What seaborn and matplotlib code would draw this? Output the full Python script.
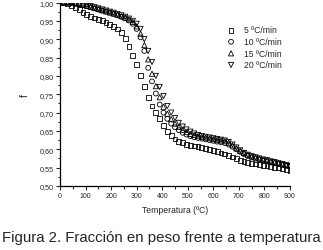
import numpy as np
import pandas as pd
import matplotlib
matplotlib.use("Agg")
import matplotlib.pyplot as plt
import seaborn as sns
from matplotlib.ticker import MultipleLocator, FuncFormatter

temperature = [15, 30, 45, 60, 75, 90, 105, 120, 135, 150, 165, 180, 195, 210, 225,
               240, 255, 270, 285, 300, 315, 330, 345, 360, 375, 390, 405, 420, 435, 450,
               465, 480, 495, 510, 525, 540, 555, 570, 585, 600, 615, 630, 645, 660, 675,
               690, 705, 720, 735, 750, 765, 780, 795, 810, 825, 840, 855, 870, 885, 900]

f_5 = [1.000, 0.997, 0.992, 0.986, 0.980, 0.973, 0.967, 0.962, 0.958, 0.954, 0.950, 0.946, 0.941, 0.935, 0.928,
       0.918, 0.902, 0.880, 0.856, 0.830, 0.800, 0.772, 0.742, 0.718, 0.700, 0.683, 0.665, 0.649, 0.637, 0.628,
       0.622, 0.618, 0.614, 0.611, 0.609, 0.607, 0.605, 0.602, 0.599, 0.596, 0.593, 0.590, 0.587, 0.583, 0.579,
       0.574, 0.569, 0.566, 0.564, 0.562, 0.560, 0.558, 0.556, 0.555, 0.553, 0.551, 0.549, 0.547, 0.545, 0.543]

f_10 = [1.000, 1.000, 0.999, 0.997, 0.995, 0.993, 0.990, 0.987, 0.984, 0.981, 0.978, 0.975, 0.972, 0.969, 0.965,
        0.961, 0.957, 0.951, 0.942, 0.928, 0.905, 0.868, 0.822, 0.785, 0.752, 0.722, 0.700, 0.683, 0.670, 0.660,
        0.652, 0.645, 0.640, 0.636, 0.633, 0.631, 0.629, 0.627, 0.625, 0.623, 0.621, 0.619, 0.617, 0.613, 0.607,
        0.600, 0.593, 0.587, 0.582, 0.578, 0.575, 0.572, 0.569, 0.567, 0.564, 0.562, 0.560, 0.557, 0.555, 0.553]

f_15 = [1.000, 1.000, 1.000, 0.998, 0.996, 0.994, 0.991, 0.988, 0.985, 0.982, 0.979, 0.976, 0.973, 0.970, 0.967,
        0.963, 0.959, 0.954, 0.947, 0.935, 0.915, 0.884, 0.845, 0.806, 0.772, 0.742, 0.716, 0.697, 0.682, 0.670,
        0.661, 0.653, 0.647, 0.642, 0.639, 0.636, 0.634, 0.632, 0.630, 0.628, 0.626, 0.624, 0.622, 0.618, 0.611,
        0.603, 0.596, 0.590, 0.585, 0.581, 0.578, 0.575, 0.572, 0.570, 0.567, 0.565, 0.562, 0.560, 0.557, 0.555]

f_20 = [1.000, 1.000, 0.999, 0.998, 0.997, 0.995, 0.993, 0.990, 0.987, 0.984, 0.981, 0.978, 0.975, 0.972, 0.968,
        0.965, 0.961, 0.956, 0.950, 0.942, 0.928, 0.900, 0.868, 0.838, 0.800, 0.770, 0.745, 0.718, 0.700, 0.685,
        0.672, 0.662, 0.654, 0.648, 0.643, 0.639, 0.636, 0.634, 0.632, 0.630, 0.628, 0.626, 0.624, 0.620, 0.613,
        0.605, 0.597, 0.590, 0.585, 0.581, 0.578, 0.575, 0.572, 0.570, 0.567, 0.565, 0.562, 0.560, 0.557, 0.555]

series_labels = ["5 ºC/min", "10 ºC/min", "15 ºC/min", "20 ºC/min"]
series_values = [f_5, f_10, f_15, f_20]
series_markers = ["s", "o", "^", "v"]
series_sizes = [12, 12, 14, 14]

x_label = "Temperatura (ºC)"
y_label = "f"
caption = "Figura 2. Fracción en peso frente a temperatura"

sns.set_style("ticks")
plt.rcParams["font.family"] = ["Liberation Sans", "DejaVu Sans"]

fig = plt.figure(figsize=(3.23, 2.51), dpi=100)
ax = fig.add_axes([60 / 323, 1 - 187 / 251, 230 / 323, 183.5 / 251])

for lab, vals, mk, sz in zip(series_labels, series_values, series_markers, series_sizes):
    sns.scatterplot(x=temperature, y=vals, marker=mk, s=sz, facecolors="none",
                    edgecolor="black", linewidth=0.6, label=lab, ax=ax, legend=False)

ax.set_xlim(0, 900)
ax.set_ylim(0.5, 1.0)
ax.xaxis.set_major_locator(MultipleLocator(100))
ax.xaxis.set_minor_locator(MultipleLocator(50))
ax.yaxis.set_major_locator(MultipleLocator(0.05))
ax.yaxis.set_minor_locator(MultipleLocator(0.025))
ax.yaxis.set_major_formatter(FuncFormatter(lambda v, p: f"{v:.2f}".replace(".", ",")))
ax.tick_params(axis="both", which="major", direction="out", length=3, width=0.8, pad=1.5)
ax.tick_params(axis="both", which="minor", direction="out", length=1.8, width=0.8)
ax.tick_params(axis="x", labelsize=5)
ax.tick_params(axis="y", labelsize=5.2)
for side in ["top", "right"]:
    ax.spines[side].set_visible(False)
for side in ["left", "bottom"]:
    ax.spines[side].set_linewidth(0.9)
    ax.spines[side].set_color("black")

ax.set_xlabel(x_label, fontsize=6.2, labelpad=4)
ax.set_ylabel(y_label, fontsize=7.5, labelpad=7)

ax.legend(frameon=False, fontsize=6.2, loc="upper left", bbox_to_anchor=(0.725, 0.875),
          borderpad=0, borderaxespad=0, handlelength=1.0, handletextpad=1.0,
          labelspacing=0.3, markerscale=1.0)

fig.text(0.5, 1 - 238 / 251, caption, ha="center", va="center", fontsize=10.8)

fig.savefig("out.png", dpi=100)
